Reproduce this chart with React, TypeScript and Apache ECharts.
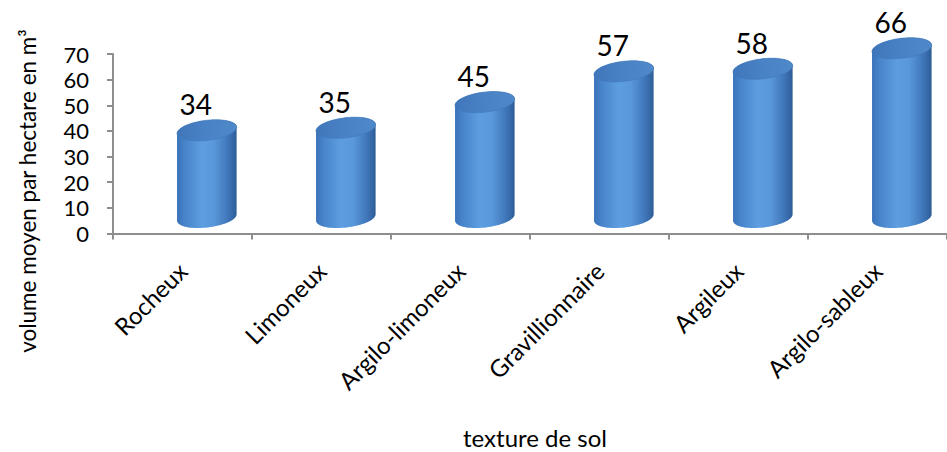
import React, { useEffect, useRef } from "react";
import * as echarts from "echarts";

// Soil texture classes and mean volume per hectare (m³)
const categories: string[] = [
  "Rocheux",
  "Limoneux",
  "Argilo-limoneux",
  "Gravillionnaire",
  "Argileux",
  "Argilo-sableux",
];
const volumes: number[] = [34, 35, 45, 57, 58, 66];
const yTicks = { min: 0, max: 70, interval: 10 };

const yTitle = "volume moyen par hectare en m³";
const xTitle = "texture de sol";

const FONT = "Lato, 'Open Sans', sans-serif";

// Points of a slightly tilted ellipse, from angle t0 to t1
function ellipsePts(
  cx: number,
  cy: number,
  a: number,
  b: number,
  phi: number,
  t0: number,
  t1: number,
  n: number
): number[][] {
  const pts: number[][] = [];
  const c = Math.cos(phi);
  const s = Math.sin(phi);
  for (let k = 0; k <= n; k++) {
    const t = t0 + ((t1 - t0) * k) / n;
    const ex = a * Math.cos(t);
    const ey = b * Math.sin(t);
    pts.push([cx + ex * c + ey * s, cy - ex * s + ey * c]);
  }
  return pts;
}

function renderCylinder(params: any, api: any) {
  const i = api.value(0);
  const v = api.value(1);
  const base = api.coord([i, 0]);
  const top = api.coord([i, v]);
  const band = api.size([1, 0])[0];
  // depth offset of the 3D look
  const cx = base[0] + band * 0.175;
  const dy = -16;
  const yb = base[1] + dy;
  const yt = top[1] + dy;
  const a = 30;
  const b = 10;
  const phi = 0.12;

  const bodyPts = [
    ...ellipsePts(cx, yb, a, b, phi, Math.PI, 0, 40),
    ...ellipsePts(cx, yt, a, b, phi, 0, -Math.PI, 40),
  ];
  const topPts = ellipsePts(cx, yt, a, b, phi, 0, Math.PI * 2, 80);

  const bodyFill = new echarts.graphic.LinearGradient(0, 0, 1, 0, [
    { offset: 0, color: "#3a72b9" },
    { offset: 0.12, color: "#4783c9" },
    { offset: 0.42, color: "#5d9ee0" },
    { offset: 0.62, color: "#5998da" },
    { offset: 0.85, color: "#4077bb" },
    { offset: 1, color: "#2e5d97" },
  ]);
  const topFill = new echarts.graphic.LinearGradient(0, 0, 1, 0, [
    { offset: 0, color: "#3f76ba" },
    { offset: 0.5, color: "#4a83c5" },
    { offset: 1, color: "#4f89ca" },
  ]);

  return {
    type: "group",
    children: [
      {
        type: "polygon",
        shape: { points: bodyPts },
        style: { fill: bodyFill, stroke: null },
      },
      {
        type: "polygon",
        shape: { points: topPts },
        style: { fill: topFill, stroke: "#4178bb", lineWidth: 0.6 },
      },
      {
        type: "text",
        x: cx - 11,
        y: yt - 26,
        style: {
          text: String(v),
          fill: "#000000",
          font: `28px ${FONT}`,
          align: "center",
          verticalAlign: "middle",
        },
      },
    ],
  };
}

export default function App() {
  const ref = useRef<HTMLDivElement>(null);

  useEffect(() => {
    if (!ref.current) return;
    const chart = echarts.init(ref.current, null, { renderer: "svg" });
    const axisGrey = "#8e8e8e";
    chart.setOption({
      animation: false,
      backgroundColor: "#ffffff",
      grid: { left: 113, right: -11, top: 54, bottom: 218.5, containLabel: false },
      xAxis: {
        type: "category",
        data: categories,
        boundaryGap: true,
        axisLine: { show: true, lineStyle: { color: axisGrey, width: 2 } },
        axisTick: { show: true, length: 6, alignWithLabel: false, lineStyle: { color: axisGrey, width: 2 } },
        axisLabel: {
          rotate: 45,
          margin: 33,
          color: "#000000",
          fontFamily: FONT,
          fontSize: 24,
          interval: 0,
        },
        splitLine: { show: false },
      },
      yAxis: {
        type: "value",
        min: yTicks.min,
        max: yTicks.max,
        interval: yTicks.interval,
        axisLine: { show: true, lineStyle: { color: axisGrey, width: 2 } },
        axisTick: { show: true, length: 6, lineStyle: { color: axisGrey, width: 2 } },
        axisLabel: {
          margin: 24,
          color: "#000000",
          fontFamily: FONT,
          fontSize: 22,
          lineHeight: 20,
        },
        splitLine: { show: false },
      },
      graphic: [
        {
          type: "text",
          x: 27,
          y: 191,
          rotation: Math.PI / 2,
          style: {
            text: yTitle,
            fill: "#000000",
            font: `22.5px ${FONT}`,
            align: "center",
            verticalAlign: "middle",
          },
        },
        {
          type: "text",
          x: 535,
          y: 437,
          style: {
            text: xTitle,
            fill: "#000000",
            font: `24px ${FONT}`,
            align: "center",
            verticalAlign: "middle",
          },
        },
      ],
      series: [
        {
          type: "custom",
          renderItem: renderCylinder,
          clip: false,
          encode: { x: 0, y: 1 },
          data: volumes.map((v, i) => [i, v]),
        },
      ],
    });
    return () => chart.dispose();
  }, []);

  return (
    <div
      ref={ref}
      style={{ position: "fixed", left: 0, top: 0, width: 947, height: 452 }}
    />
  );
}
